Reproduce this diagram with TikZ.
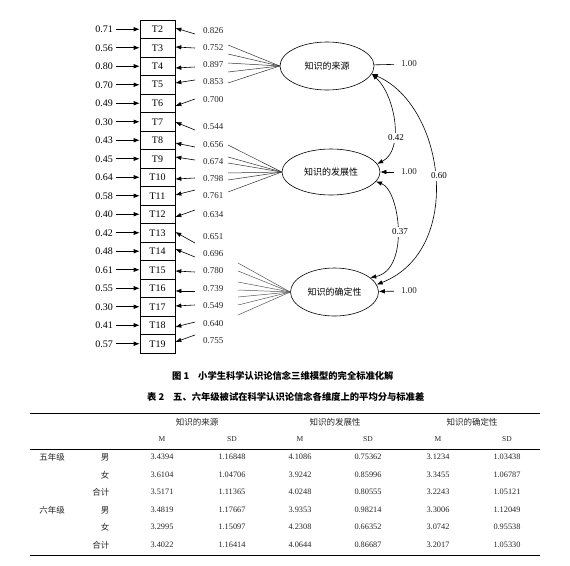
\documentclass[tikz,border=0pt]{standalone}
\usepackage{fontspec}
\setmainfont{Liberation Serif}
\newfontfamily\cjk{Noto Sans CJK SC}
\usetikzlibrary{arrows.meta,shapes.geometric}
\begin{document}
\begin{tikzpicture}[x=1pt,y=-1pt,
  tbox/.style={draw, line width=0.6pt, minimum width=35pt, minimum height=18.5pt, inner sep=0pt, font=\fontsize{10}{12}\selectfont},
  lnum/.style={font=\fontsize{10}{12}\selectfont, inner sep=1pt},
  rnum/.style={font=\fontsize{9}{11}\selectfont, inner sep=1pt, anchor=west, text=black!85},
  arr/.style={-{Latex[length=6pt,width=4.5pt]}, line width=0.6pt},
  darr/.style={{Latex[length=6pt,width=4.5pt]}-{Latex[length=6pt,width=4.5pt]}, line width=0.6pt},
  fan/.style={line width=0.5pt, draw=black!80},
  latent/.style={draw, ellipse, line width=0.6pt, inner sep=0pt, font=\cjk\fontsize{9}{11}\selectfont},
  lbl/.style={fill=white, inner sep=1.5pt, font=\fontsize{9}{11}\selectfont},
  thead/.style={font=\cjk\fontsize{8.5}{10}\selectfont, text=black!85},
  tsub/.style={font=\fontsize{7.5}{9}\selectfont, text=black!85},
  tnum/.style={font=\fontsize{8.3}{10}\selectfont, text=black!85},
  tcjk/.style={font=\cjk\fontsize{8.5}{10}\selectfont, text=black!85},
  capt/.style={font=\cjk\bfseries\fontsize{9.3}{11}\selectfont, anchor=west, inner sep=0pt}
]
\fill[white] (0,0) rectangle (570,565);
\useasboundingbox (0,0) rectangle (570,565);

% indicator boxes
\foreach \i in {2,...,19} {
  \node[tbox] (T\i) at (157.5, {29.25+18.5*(\i-2)}) {T\i};
}

% left error terms
\foreach \i/\v in {2/0.71,3/0.56,4/0.80,5/0.70,6/0.49,7/0.30,8/0.43,9/0.45,10/0.64,11/0.58,12/0.40,13/0.42,14/0.48,15/0.61,16/0.55,17/0.30,18/0.41,19/0.57} {
  \node[lnum] (L\i) at (104, {29.25+18.5*(\i-2)}) {\v};
  \draw[arr, shorten <=2pt] (L\i) -- (T\i);
}

% right loadings
\foreach \i/\v/\ny/\sy/\ey in {2/0.826/31/34/28, 3/0.752/48/48/47, 4/0.897/65/67/68, 5/0.853/82/80/83, 6/0.700/100/99/106, 7/0.544/127/130/122, 8/0.656/145/147/143, 9/0.674/162/160/157, 10/0.798/179/178/179, 11/0.761/196/190/195, 12/0.634/215/210/217, 13/0.651/237/243/232, 14/0.696/254/257/249, 15/0.780/271/272/271, 16/0.739/289/291/291, 17/0.549/306/305/306, 18/0.640/324/322/327, 19/0.755/341/335/342} {
  \node[rnum] (R\i) at (202,\ny) {\v};
  \coordinate (S\i) at (195,\sy);
  \pgfmathsetmacro{\ys}{29.25+18.5*(\i-2)-\ey}
  \draw[arr] (S\i) -- ([yshift=\ys pt]T\i.east);
}

% latent factors
\node[latent, minimum width=94pt, minimum height=48pt] (E1) at (327,66) {知识的来源};
\node[latent, minimum width=98pt, minimum height=46pt] (E2) at (331,172) {知识的发展性};
\node[latent, minimum width=88pt, minimum height=48pt] (E3) at (334.5,292) {知识的确定性};

% fans
\foreach \y in {45,54,63,72,83} {
  \coordinate (fa\y) at (228,\y);
  \draw[fan] (E1.west) -- (fa\y);
}
\foreach \y in {145,157,163,173,180,192} {
  \coordinate (fb\y) at (228,\y);
  \draw[fan] (E2.west) -- (fb\y);
}
\foreach \y in {263,271,282,290,297,305,315} {
  \coordinate (fc\y) at (238,\y);
  \draw[fan, draw=black!65] (E3.west) -- (fc\y);
}

% variances
\node[rnum] (V1) at (400,64) {1.00};
\node[rnum] (V2) at (400,172) {1.00};
\node[rnum] (V3) at (400,291) {1.00};
\draw[line width=0.6pt, shorten <=6pt] (V1) -- (E1);
\draw[arr, shorten <=6pt] (V2) -- (E2);
\draw[arr, shorten <=6pt] (V3) -- (E3);

% correlations
\draw[darr] (E1.-10) .. controls (395,95) and (405,150) .. (E2.10);
\draw[darr] (E2.-12) .. controls (400,190) and (410,270) .. (E3.22);
\draw[darr] (E1.-10) .. controls (445,105) and (465,250) .. (E3.10);
\node[lbl] (c42) at (396,138) {0.42};
\node[lbl] (c37) at (400,232) {0.37};
\node[lbl] (c60) at (439,176) {0.60};

% captions
\node[capt] (fig) at (172,376) {图 1};
\node[capt] (figt) at (198,376) {小学生科学认识论信念三维模型的完全标准化解};
\node[capt] (tab) at (147,397) {表 2};
\node[capt] (tabt) at (173,397) {五、六年级被试在科学认识论信念各维度上的平均分与标准差};

% table rules
\draw[line width=1pt] (30,413) -- (540,413);
\draw[line width=0.5pt] (30,449) -- (540,449);
\draw[line width=1pt] (30,555) -- (540,555);

% table header
\node[thead] (h1) at (197,422) {知识的来源};
\node[thead] (h2) at (335,422) {知识的发展性};
\node[thead] (h3) at (472,422) {知识的确定性};
\foreach \x/\t [count=\k] in {162/M,232/SD,300/M,368/SD,438/M,507/SD} {
  \node[tsub] (m\k) at (\x,439) {\t};
}

% table body
\foreach \y/\g/\s/\a/\b/\c/\d/\e/\f [count=\r] in {
  457/五年级/男/3.4394/1.16848/4.1086/0.75362/3.1234/1.03438,
  475/{}/女/3.6104/1.04706/3.9242/0.85996/3.3455/1.06787,
  492/{}/合计/3.5171/1.11365/4.0248/0.80555/3.2243/1.05121,
  510/六年级/男/3.4819/1.17667/3.9353/0.98214/3.3006/1.12049,
  527/{}/女/3.2995/1.15097/4.2308/0.66352/3.0742/0.95538,
  545/{}/合计/3.4022/1.16414/4.0644/0.86687/3.2017/1.05330} {
  \node[tcjk] (g\r) at (52,\y) {\g};
  \node[tcjk, anchor=east] (s\r) at (113,\y) {\s};
  \node[tnum] (a\r) at (162,\y) {\a};
  \node[tnum] (b\r) at (232,\y) {\b};
  \node[tnum] (c\r) at (300,\y) {\c};
  \node[tnum] (d\r) at (368,\y) {\d};
  \node[tnum] (e\r) at (438,\y) {\e};
  \node[tnum] (f\r) at (507,\y) {\f};
}
\end{tikzpicture}
\end{document}
